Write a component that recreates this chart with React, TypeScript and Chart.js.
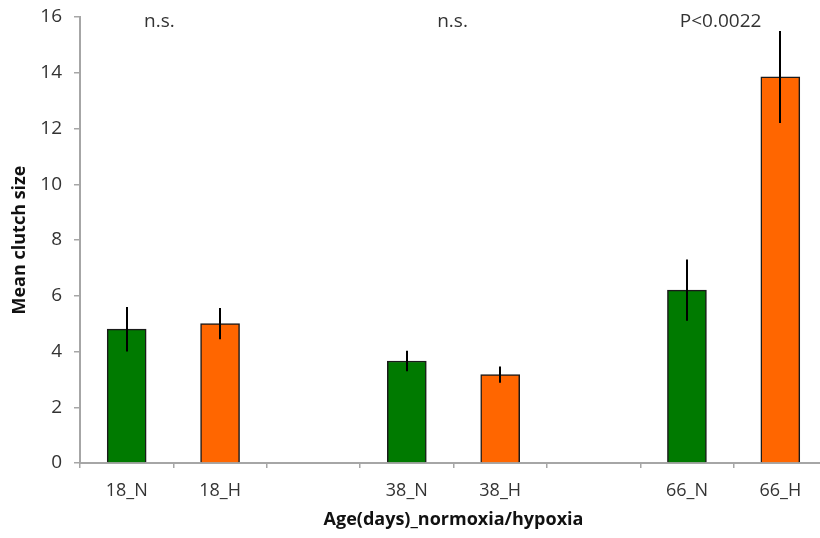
import React, { useEffect, useRef } from "react";
import { Chart, registerables } from "chart.js";

Chart.register(...registerables);

const categories = ["18_N", "18_H", "", "38_N", "38_H", "", "66_N", "66_H"];
const meanClutch = [4.8, 5.0, null, 3.66, 3.17, null, 6.2, 13.85];
const errorValues = [0.8, 0.56, null, 0.37, 0.29, null, 1.1, 1.65];
const barColors = ["#007A00", "#FF6600", "#FFFFFF", "#007A00", "#FF6600", "#FFFFFF", "#007A00", "#FF6600"];
const annotationTexts = ["n.s.", "n.s.", "P<0.0022"];
const annotationIndex = [0.35, 3.49, 6.36];
const annotationValue = 15.85;
const yTicks = [0, 2, 4, 6, 8, 10, 12, 14, 16];

const FONT = "'Open Sans', sans-serif";

const errorBarPlugin = {
  id: "errorBars",
  afterDatasetsDraw(chart: any) {
    const ctx = chart.ctx;
    const meta = chart.getDatasetMeta(0);
    const yScale = chart.scales.y;
    ctx.save();
    ctx.strokeStyle = "#000000";
    ctx.lineWidth = 2;
    meta.data.forEach((bar: any, i: number) => {
      const v = meanClutch[i];
      const e = errorValues[i];
      if (v == null || e == null) return;
      const x = Math.round(bar.x);
      ctx.beginPath();
      ctx.moveTo(x, yScale.getPixelForValue(v + e));
      ctx.lineTo(x, yScale.getPixelForValue(v - e));
      ctx.stroke();
    });
    ctx.restore();
  },
};

const annotationPlugin = {
  id: "annotations",
  afterDraw(chart: any) {
    const ctx = chart.ctx;
    const xScale = chart.scales.x;
    const yScale = chart.scales.y;
    ctx.save();
    ctx.fillStyle = "#333333";
    ctx.font = `19px ${FONT}`;
    ctx.textAlign = "center";
    ctx.textBaseline = "middle";
    annotationTexts.forEach((t, i) => {
      ctx.fillText(t, xScale.getPixelForValue(annotationIndex[i]), yScale.getPixelForValue(annotationValue));
    });
    ctx.restore();
  },
};

export default function App() {
  const canvasRef = useRef<HTMLCanvasElement | null>(null);

  useEffect(() => {
    if (!canvasRef.current) return;
    const chart = new Chart(canvasRef.current, {
      type: "bar",
      data: {
        labels: categories,
        datasets: [
          {
            data: meanClutch as any,
            backgroundColor: barColors,
            borderColor: "#1a1a1a",
            borderWidth: 1.5,
            barThickness: 39,
          },
        ],
      },
      options: {
        animation: false,
        responsive: false,
        maintainAspectRatio: false,
        layout: { padding: { top: 17, right: 0, bottom: 0, left: 0 } },
        plugins: {
          legend: { display: false },
          tooltip: { enabled: false },
        },
        scales: {
          x: {
            type: "category",
            offset: true,
            grid: {
              offset: true,
              drawOnChartArea: false,
              drawTicks: true,
              tickLength: 5,
              color: "#A6A6A6",
              lineWidth: 1.5,
            },
            border: { color: "#A6A6A6", width: 2 },
            ticks: {
              color: "#333333",
              font: { family: FONT, size: 18 },
              padding: 12,
              maxRotation: 0,
              autoSkip: false,
            },
            title: {
              display: true,
              text: "Age(days)_normoxia/hypoxia",
              color: "#111111",
              font: { family: FONT, size: 18, weight: "bold" },
              padding: { top: 0, bottom: 7 },
            },
            afterFit(scale: any) {
              scale.height = 75;
              scale.paddingLeft = 0;
              scale.paddingRight = 0;
            },
          },
          y: {
            min: 0,
            max: 16,
            afterBuildTicks(scale: any) {
              scale.ticks = yTicks.map((v) => ({ value: v }));
            },
            grid: {
              drawOnChartArea: false,
              drawTicks: true,
              tickLength: 6,
              color: "#A6A6A6",
              lineWidth: 1.5,
            },
            border: { color: "#A6A6A6", width: 2 },
            ticks: {
              color: "#333333",
              font: { family: FONT, size: 19 },
              padding: 12,
            },
            title: {
              display: true,
              text: "Mean clutch size",
              color: "#111111",
              font: { family: FONT, size: 18, weight: "bold" },
              padding: { top: 9, bottom: 0 },
            },
            afterFit(scale: any) {
              scale.width = 80;
              scale.paddingTop = 0;
              scale.paddingBottom = 0;
            },
          },
        },
      },
      plugins: [errorBarPlugin, annotationPlugin],
    });
    return () => chart.destroy();
  }, []);

  return (
    <div
      style={{
        position: "absolute",
        left: 0,
        top: 0,
        width: 820,
        height: 538,
        overflow: "hidden",
        background: "#ffffff",
      }}
    >
      <canvas ref={canvasRef} width={827} height={538} style={{ display: "block" }} />
    </div>
  );
}
